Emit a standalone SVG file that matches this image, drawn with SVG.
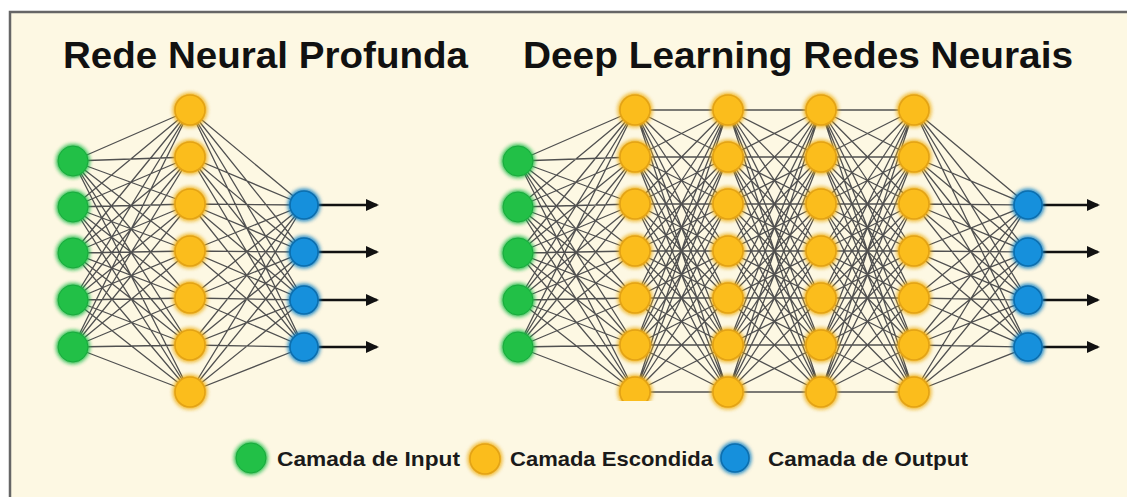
<svg xmlns="http://www.w3.org/2000/svg" xmlns:xlink="http://www.w3.org/1999/xlink" width="1127" height="497" viewBox="0 0 1127 497">
<style>
.conn{fill:none;stroke:#505050;stroke-width:1.3}
.arr{fill:none;stroke:#111;stroke-width:2.6}
.g{fill:#20c046;stroke:#1aa83d;stroke-width:1;filter:url(#glow)}
.y{fill:#fbbd1f;stroke:#e3a315;stroke-width:1.6;filter:url(#glow)}
.b{fill:#1690dc;stroke:#0f6fae;stroke-width:1.6;filter:url(#glow)}
.title{font-family:"Liberation Sans",Arial,sans-serif;font-weight:bold;font-size:37px;fill:#111}
.leg{font-family:"Liberation Sans",Arial,sans-serif;font-weight:bold;font-size:21px;fill:#1a1a1a}
</style>
<defs>
<filter id="glow" x="-60%" y="-60%" width="220%" height="220%">
<feGaussianBlur in="SourceGraphic" stdDeviation="2.6" result="b"/>
<feMerge><feMergeNode in="b"/><feMergeNode in="b"/><feMergeNode in="SourceGraphic"/></feMerge>
</filter>
<marker id="ah" markerWidth="14" markerHeight="12" refX="11" refY="6" orient="auto" markerUnits="userSpaceOnUse">
<path d="M0 0L13 6L0 12Z" fill="#111"/>
</marker>
<clipPath id="cutH1"><rect x="600" y="360" width="70" height="41"/></clipPath>
<path id="in2hid" d="M0 161L117 110M0 161L117 157M0 161L117 204M0 161L117 251M0 161L117 298M0 161L117 345M0 161L117 392M0 207L117 110M0 207L117 157M0 207L117 204M0 207L117 251M0 207L117 298M0 207L117 345M0 207L117 392M0 253L117 110M0 253L117 157M0 253L117 204M0 253L117 251M0 253L117 298M0 253L117 345M0 253L117 392M0 300L117 110M0 300L117 157M0 300L117 204M0 300L117 251M0 300L117 298M0 300L117 345M0 300L117 392M0 347L117 110M0 347L117 157M0 347L117 204M0 347L117 251M0 347L117 298M0 347L117 345M0 347L117 392"/>
<path id="hid2hid" d="M0 110L93 110M0 110L93 157M0 110L93 204M0 110L93 251M0 110L93 298M0 110L93 345M0 110L93 392M0 157L93 110M0 157L93 157M0 157L93 204M0 157L93 251M0 157L93 298M0 157L93 345M0 157L93 392M0 204L93 110M0 204L93 157M0 204L93 204M0 204L93 251M0 204L93 298M0 204L93 345M0 204L93 392M0 251L93 110M0 251L93 157M0 251L93 204M0 251L93 251M0 251L93 298M0 251L93 345M0 251L93 392M0 298L93 110M0 298L93 157M0 298L93 204M0 298L93 251M0 298L93 298M0 298L93 345M0 298L93 392M0 345L93 110M0 345L93 157M0 345L93 204M0 345L93 251M0 345L93 298M0 345L93 345M0 345L93 392M0 392L93 110M0 392L93 157M0 392L93 204M0 392L93 251M0 392L93 298M0 392L93 345M0 392L93 392"/>
<path id="hid2out" d="M0 110L114 205M0 110L114 252M0 110L114 300M0 110L114 347M0 157L114 205M0 157L114 252M0 157L114 300M0 157L114 347M0 204L114 205M0 204L114 252M0 204L114 300M0 204L114 347M0 251L114 205M0 251L114 252M0 251L114 300M0 251L114 347M0 298L114 205M0 298L114 252M0 298L114 300M0 298L114 347M0 345L114 205M0 345L114 252M0 345L114 300M0 345L114 347M0 392L114 205M0 392L114 252M0 392L114 300M0 392L114 347"/>
</defs>
<rect x="0" y="0" width="1127" height="497" fill="#ffffff"/>
<rect x="10" y="12" width="1130" height="495" fill="#fdf8e3" stroke="#666" stroke-width="2.5"/>

<g id="titles">
<text class="title" x="63" y="68" textLength="405" lengthAdjust="spacingAndGlyphs">Rede Neural Profunda</text>
<text class="title" x="523" y="68" textLength="550" lengthAdjust="spacingAndGlyphs">Deep Learning Redes Neurais</text>
</g>

<g id="connectors" class="conn">
<use xlink:href="#in2hid" href="#in2hid" x="73"/>
<use xlink:href="#hid2out" href="#hid2out" x="190"/>
<use xlink:href="#in2hid" href="#in2hid" x="518"/>
<use xlink:href="#hid2hid" href="#hid2hid" x="635"/>
<use xlink:href="#hid2hid" href="#hid2hid" x="728"/>
<use xlink:href="#hid2hid" href="#hid2hid" x="821"/>
<use xlink:href="#hid2out" href="#hid2out" x="914"/>
<g class="arr">
<path d="M318 205H377" marker-end="url(#ah)"/>
<path d="M318 252H377" marker-end="url(#ah)"/>
<path d="M318 300H377" marker-end="url(#ah)"/>
<path d="M318 347H377" marker-end="url(#ah)"/>
<path d="M1042 205H1098" marker-end="url(#ah)"/>
<path d="M1042 252H1098" marker-end="url(#ah)"/>
<path d="M1042 300H1098" marker-end="url(#ah)"/>
<path d="M1042 347H1098" marker-end="url(#ah)"/>
</g>
</g>

<g id="left-input">
<circle class="g" cx="73" cy="161" r="15"/><circle class="g" cx="73" cy="207" r="15"/><circle class="g" cx="73" cy="253" r="15"/><circle class="g" cx="73" cy="300" r="15"/><circle class="g" cx="73" cy="347" r="15"/>
</g>
<g id="left-hidden">
<circle class="y" cx="190" cy="110" r="15"/><circle class="y" cx="190" cy="157" r="15"/><circle class="y" cx="190" cy="204" r="15"/><circle class="y" cx="190" cy="251" r="15"/><circle class="y" cx="190" cy="298" r="15"/><circle class="y" cx="190" cy="345" r="15"/><circle class="y" cx="190" cy="392" r="15"/>
</g>
<g id="left-output">
<circle class="b" cx="304" cy="205" r="14"/><circle class="b" cx="304" cy="252" r="14"/><circle class="b" cx="304" cy="300" r="14"/><circle class="b" cx="304" cy="347" r="14"/>
</g>

<g id="right-input">
<circle class="g" cx="518" cy="161" r="15"/><circle class="g" cx="518" cy="207" r="15"/><circle class="g" cx="518" cy="253" r="15"/><circle class="g" cx="518" cy="300" r="15"/><circle class="g" cx="518" cy="347" r="15"/>
</g>
<g id="right-hidden-1">
<circle class="y" cx="635" cy="110" r="15"/><circle class="y" cx="635" cy="157" r="15"/><circle class="y" cx="635" cy="204" r="15"/><circle class="y" cx="635" cy="251" r="15"/><circle class="y" cx="635" cy="298" r="15"/><circle class="y" cx="635" cy="345" r="15"/>
<g clip-path="url(#cutH1)"><circle class="y" cx="635" cy="392" r="15"/></g>
</g>
<g id="right-hidden-2">
<circle class="y" cx="728" cy="110" r="15"/><circle class="y" cx="728" cy="157" r="15"/><circle class="y" cx="728" cy="204" r="15"/><circle class="y" cx="728" cy="251" r="15"/><circle class="y" cx="728" cy="298" r="15"/><circle class="y" cx="728" cy="345" r="15"/><circle class="y" cx="728" cy="392" r="15"/>
</g>
<g id="right-hidden-3">
<circle class="y" cx="821" cy="110" r="15"/><circle class="y" cx="821" cy="157" r="15"/><circle class="y" cx="821" cy="204" r="15"/><circle class="y" cx="821" cy="251" r="15"/><circle class="y" cx="821" cy="298" r="15"/><circle class="y" cx="821" cy="345" r="15"/><circle class="y" cx="821" cy="392" r="15"/>
</g>
<g id="right-hidden-4">
<circle class="y" cx="914" cy="110" r="15"/><circle class="y" cx="914" cy="157" r="15"/><circle class="y" cx="914" cy="204" r="15"/><circle class="y" cx="914" cy="251" r="15"/><circle class="y" cx="914" cy="298" r="15"/><circle class="y" cx="914" cy="345" r="15"/><circle class="y" cx="914" cy="392" r="15"/>
</g>
<g id="right-output">
<circle class="b" cx="1028" cy="205" r="14"/><circle class="b" cx="1028" cy="252" r="14"/><circle class="b" cx="1028" cy="300" r="14"/><circle class="b" cx="1028" cy="347" r="14"/>
</g>

<g id="legend-input">
<circle class="g" cx="251" cy="458" r="15"/>
<text class="leg" x="277" y="466" textLength="183" lengthAdjust="spacingAndGlyphs">Camada de Input</text>
</g>
<g id="legend-hidden">
<circle class="y" cx="485" cy="459" r="15"/>
<text class="leg" x="510" y="466" textLength="203" lengthAdjust="spacingAndGlyphs">Camada Escondida</text>
</g>
<g id="legend-output">
<circle class="b" cx="735" cy="458" r="14"/>
<text class="leg" x="768" y="466" textLength="200" lengthAdjust="spacingAndGlyphs">Camada de Output</text>
</g>
</svg>
